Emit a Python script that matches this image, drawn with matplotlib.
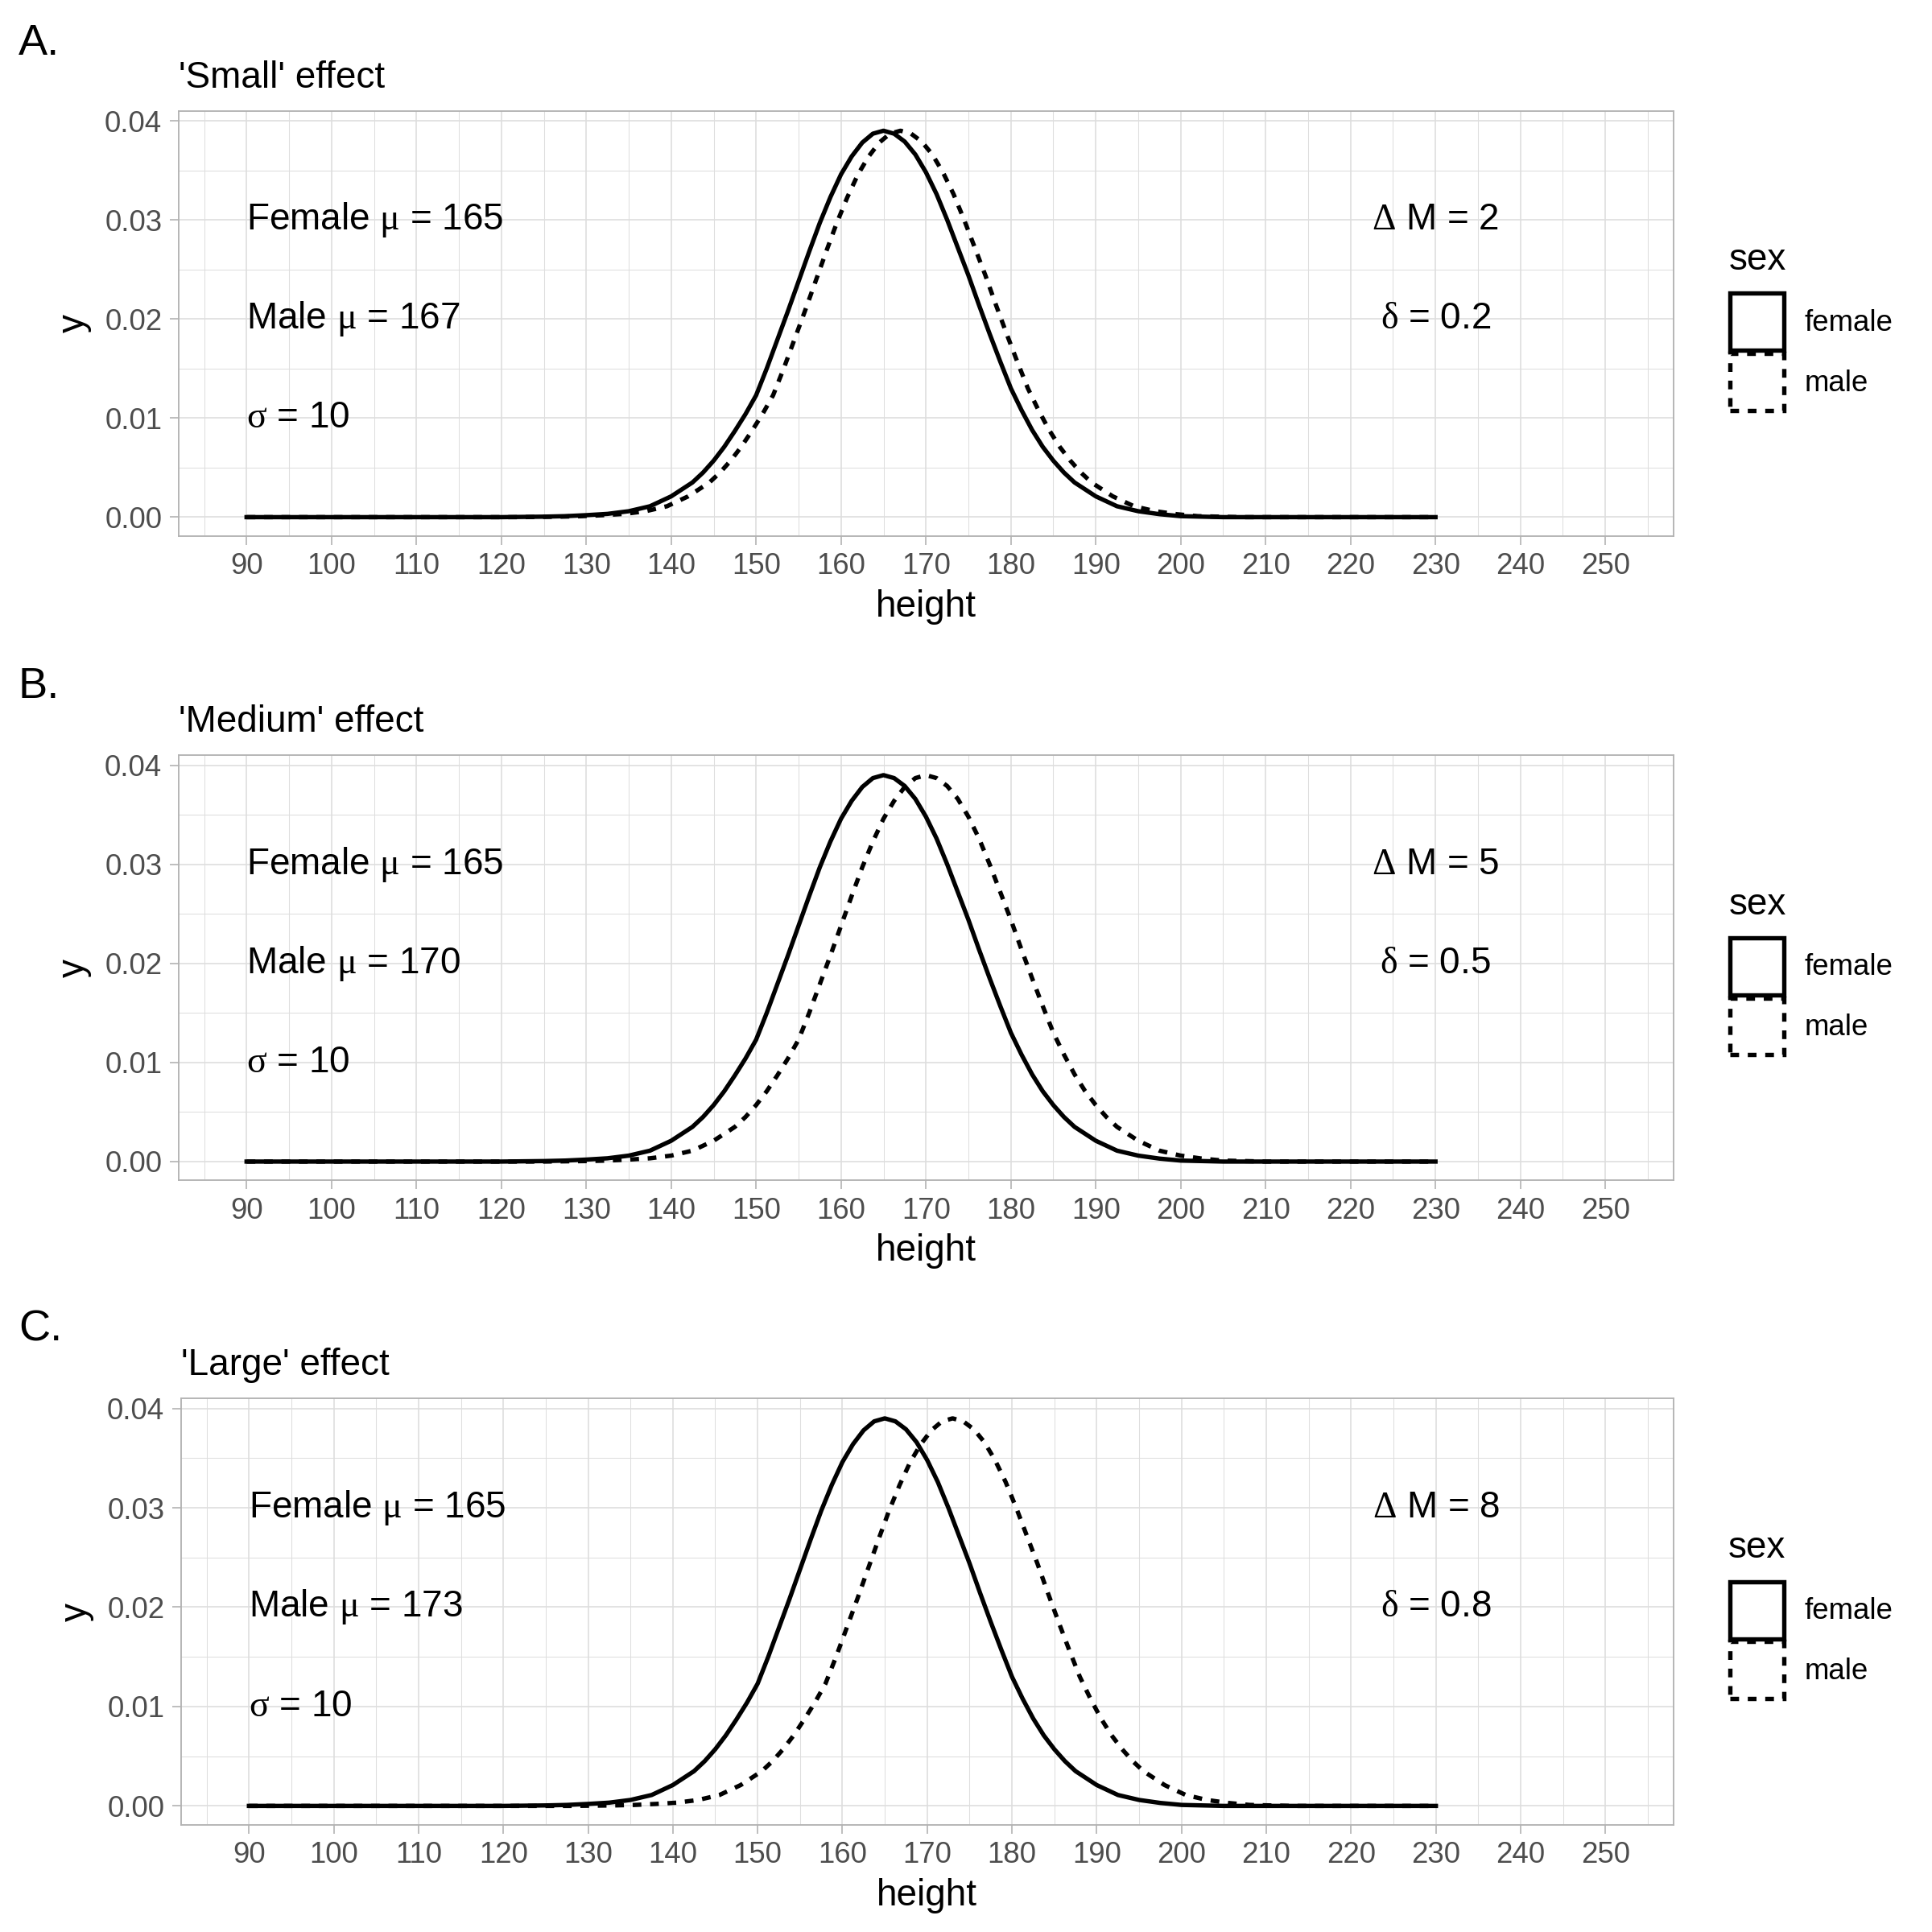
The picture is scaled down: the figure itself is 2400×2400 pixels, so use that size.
import matplotlib
matplotlib.use("Agg")
import matplotlib.pyplot as plt
from matplotlib.patches import Patch
from matplotlib.ticker import MultipleLocator

# density profile, as offset from its mean
offsets = [-45, -40, -37.5, -35, -32.5, -30, -27.5, -25, -22.5, -21.25, -20, -18.75,
           -17.5, -16.25, -15, -13.75, -12.5, -11.25, -10, -8.75, -7.5, -6.25, -5,
           -3.75, -2.5, -1.25, 0, 1.25, 2.5, 3.75, 5, 6.25, 7.5, 8.75, 10, 11.25,
           12.5, 13.75, 15, 16.25, 17.5, 18.75, 20, 21.25, 22.5, 25, 27.5, 30, 32.5,
           35, 40]
density = [0.0, 0.00005, 0.0001, 0.0002, 0.00033, 0.0006, 0.0011, 0.0021, 0.0035,
           0.0045, 0.0057, 0.0071, 0.0087, 0.0104, 0.0123, 0.0150, 0.0179, 0.0208,
           0.0238, 0.0268, 0.0297, 0.0323, 0.0346, 0.0364, 0.0378, 0.0387, 0.0390,
           0.0387, 0.0379, 0.0366, 0.0348, 0.0326, 0.0300, 0.0272, 0.0244, 0.0214,
           0.0185, 0.0157, 0.0130, 0.0108, 0.0088, 0.0071, 0.0057, 0.0045, 0.0035,
           0.0021, 0.0011, 0.0006, 0.0003, 0.0001, 0.0]

panel_tags = ["A.", "B.", "C."]
titles = ["'Small' effect", "'Medium' effect", "'Large' effect"]
female_mean = 165
male_means = [167, 170, 173]
sigma = 10
delta_m = [2, 5, 8]
cohen_d = [0.2, 0.5, 0.8]
x_start, x_end = 90, 230
sexes = ["female", "male"]

plt.rcParams["font.family"] = ["Liberation Sans", "DejaVu Sans"]
plt.rcParams["mathtext.fontset"] = "custom"
plt.rcParams["mathtext.rm"] = "Liberation Serif"
plt.rcParams["mathtext.default"] = "rm"

grid_col = "#DEDEDE"
frame_col = "#B3B3B3"
dash = (0, (2.0, 2.0))
line_w = 1.3


def curve(mean):
    xs = [x_start] + [mean + o for o in offsets] + [x_end]
    ys = [0.0] + density + [0.0]
    return xs, ys


def style_axes(ax):
    ax.set_xlim(82, 258)
    ax.set_ylim(-0.0019, 0.0410)
    ax.xaxis.set_major_locator(MultipleLocator(10))
    ax.xaxis.set_minor_locator(MultipleLocator(5))
    ax.yaxis.set_major_locator(MultipleLocator(0.01))
    ax.yaxis.set_minor_locator(MultipleLocator(0.005))
    ax.yaxis.set_major_formatter(lambda v, p: f"{v:.2f}")
    ax.grid(which="major", color=grid_col, lw=0.4)
    ax.grid(which="minor", color=grid_col, lw=0.25)
    ax.set_axisbelow(True)
    ax.tick_params(which="major", length=2.75, width=0.4, color=frame_col,
                   labelcolor="#4D4D4D", labelsize=8.8, pad=2.2)
    ax.tick_params(which="minor", length=0)
    for sp in ax.spines.values():
        sp.set_color(frame_col)
        sp.set_linewidth(0.45)
    ax.set_xlabel("height", fontsize=11, labelpad=2.5)
    ax.set_ylabel("y", fontsize=11, labelpad=4)


def draw_panel(fig, rect, i):
    ax = fig.add_axes(rect)
    style_axes(ax)

    fx, fy = curve(female_mean)
    mx, my = curve(male_means[i])
    ax.plot(fx, fy, color="black", lw=line_w, solid_joinstyle="round")
    ax.plot(mx, my, color="black", lw=line_w, linestyle=dash)

    ax.text(90, 0.03, rf"Female $\mu$ = {female_mean}", fontsize=11, ha="left", va="center")
    ax.text(90, 0.02, rf"Male $\mu$ = {male_means[i]}", fontsize=11, ha="left", va="center")
    ax.text(90, 0.01, rf"$\sigma$ = {sigma}", fontsize=11, ha="left", va="center")
    ax.text(230, 0.03, rf"$\Delta$ M = {delta_m[i]}", fontsize=11, ha="center", va="center")
    ax.text(230, 0.02, rf"$\delta$ = {cohen_d[i]}", fontsize=11, ha="center", va="center")

    ax.set_title(titles[i], loc="left", fontsize=11, pad=7)

    # legend keys, with the title set on its own so the gap can match
    handles = [
        Patch(facecolor="none", edgecolor="black", lw=line_w, label=sexes[0]),
        Patch(facecolor="none", edgecolor="black", lw=line_w, linestyle=dash, label=sexes[1]),
    ]
    ax.legend(handles=handles, loc="center left", bbox_to_anchor=(1.038, 0.433),
              frameon=False, fontsize=8.8, handlelength=1.83, handleheight=2.6,
              handletextpad=0.7, labelspacing=0.1, borderpad=0, borderaxespad=0)
    ax.text(1.037, 0.649, "sex", transform=ax.transAxes, fontsize=11,
            ha="left", va="center")
    return ax


fig = plt.figure(figsize=(8, 8), dpi=300)

rects = [
    (145 / 1568, 1 - 435 / 1568, 1213 / 1568, 345 / 1568),
    (145 / 1568, 1 - 958 / 1568, 1213 / 1568, 345 / 1568),
    (147 / 1568, 1 - 1481 / 1568, 1211 / 1568, 346 / 1568),
]
tag_y = [1 - 35 / 1568, 1 - 557 / 1568, 1 - 1079 / 1568]

for i in range(3):
    draw_panel(fig, rects[i], i)
    fig.text(15 / 1568, tag_y[i], panel_tags[i], fontsize=13, ha="left", va="center")

fig.savefig("out.png", dpi=300)
